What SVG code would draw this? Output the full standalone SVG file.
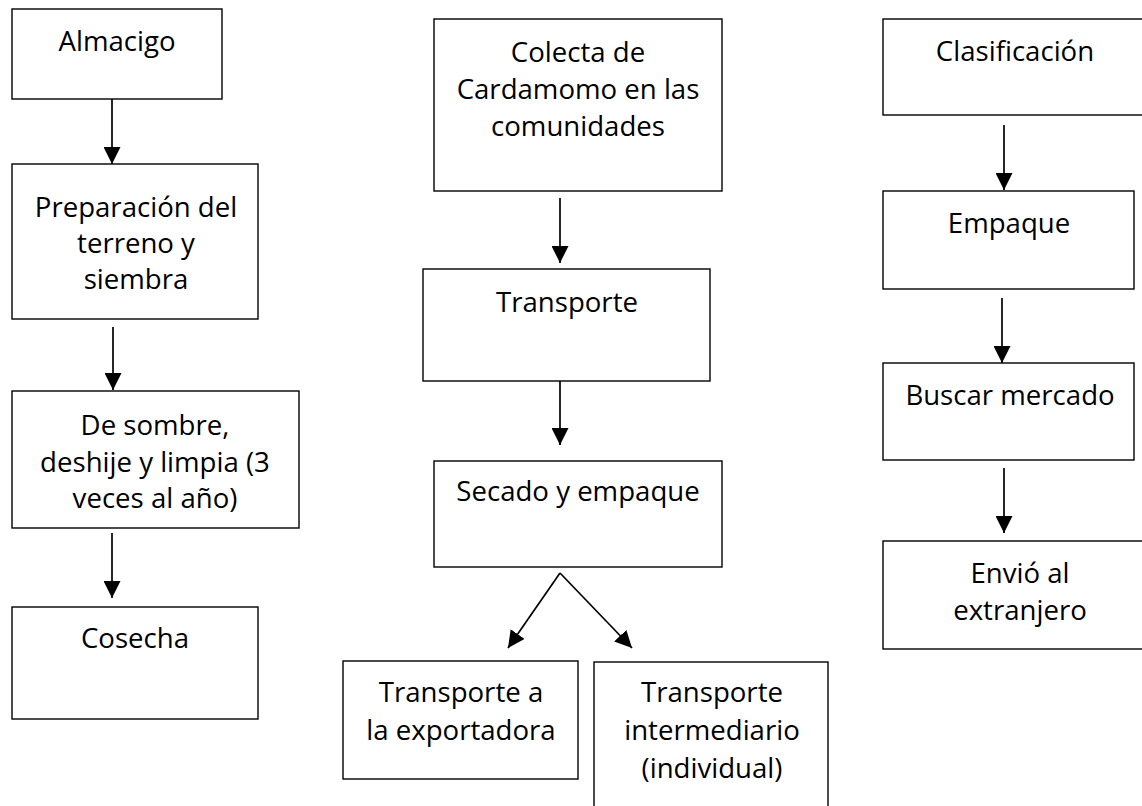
<svg xmlns="http://www.w3.org/2000/svg" width="1142" height="806" viewBox="0 0 1142 806">
<style>
rect.box{fill:#fff;stroke:#000;stroke-width:1.4}
text{font-family:"Open Sans","Liberation Sans",sans-serif;font-size:27.6px;fill:#000;text-anchor:middle}
.conn line{stroke:#000;stroke-width:1.7;marker-end:url(#ah)}
</style>
<defs>
<marker id="ah" markerUnits="userSpaceOnUse" markerWidth="18" markerHeight="17" refX="17" refY="8.5" orient="auto">
<path d="M0,0 L17,8.5 L0,17 z" fill="#000"/>
</marker>
</defs>
<rect width="1142" height="806" fill="#fff"/>
<g id="almacigo"><rect class="box" x="12" y="9" width="210" height="90"/><text x="117" y="51">Almacigo</text></g>
<g id="preparacion"><rect class="box" x="12" y="164" width="246" height="155"/><text x="136" y="217">Preparación del</text><text x="136" y="253">terreno y</text><text x="136" y="289">siembra</text></g>
<g id="desombre"><rect class="box" x="12" y="391" width="287" height="137"/><text x="155" y="435">De sombre,</text><text x="155" y="472">deshije y limpia (3</text><text x="155" y="508">veces al año)</text></g>
<g id="cosecha"><rect class="box" x="12" y="607" width="246" height="112"/><text x="135" y="648">Cosecha</text></g>
<g id="colecta"><rect class="box" x="434" y="19" width="288" height="172"/><text x="578" y="62">Colecta de</text><text x="578" y="99">Cardamomo en las</text><text x="578" y="136">comunidades</text></g>
<g id="transporte"><rect class="box" x="423" y="269" width="287" height="112"/><text x="567" y="312">Transporte</text></g>
<g id="secado"><rect class="box" x="434" y="461" width="288" height="106"/><text x="578" y="501">Secado y empaque</text></g>
<g id="transporte-exportadora"><rect class="box" x="343" y="661" width="235" height="118"/><text x="461" y="702">Transporte a</text><text x="461" y="740">la exportadora</text></g>
<g id="transporte-intermediario"><rect class="box" x="594" y="662" width="234" height="160"/><text x="712" y="702">Transporte</text><text x="712" y="740">intermediario</text><text x="712" y="778">(individual)</text></g>
<g id="clasificacion"><rect class="box" x="883" y="19" width="270" height="96"/><text x="1015" y="61">Clasificación</text></g>
<g id="empaque"><rect class="box" x="883" y="191" width="251" height="98"/><text x="1009" y="233">Empaque</text></g>
<g id="buscar"><rect class="box" x="883" y="363" width="251" height="97"/><text x="1010" y="405">Buscar mercado</text></g>
<g id="envio"><rect class="box" x="883" y="541" width="270" height="108"/><text x="1020" y="583">Envió al</text><text x="1020" y="620">extranjero</text></g>
<g class="conn" id="connectors">
<line x1="112" y1="99" x2="112" y2="164"/>
<line x1="113" y1="327" x2="113" y2="390"/>
<line x1="112" y1="533" x2="112" y2="598"/>
<line x1="560" y1="198" x2="560" y2="263"/>
<line x1="560" y1="381" x2="560" y2="445"/>
<line x1="560" y1="573" x2="508" y2="648"/>
<line x1="560" y1="573" x2="632" y2="648"/>
<line x1="1004" y1="125" x2="1004" y2="190"/>
<line x1="1002" y1="298" x2="1002" y2="363"/>
<line x1="1004" y1="468" x2="1004" y2="533"/>
</g>
</svg>
